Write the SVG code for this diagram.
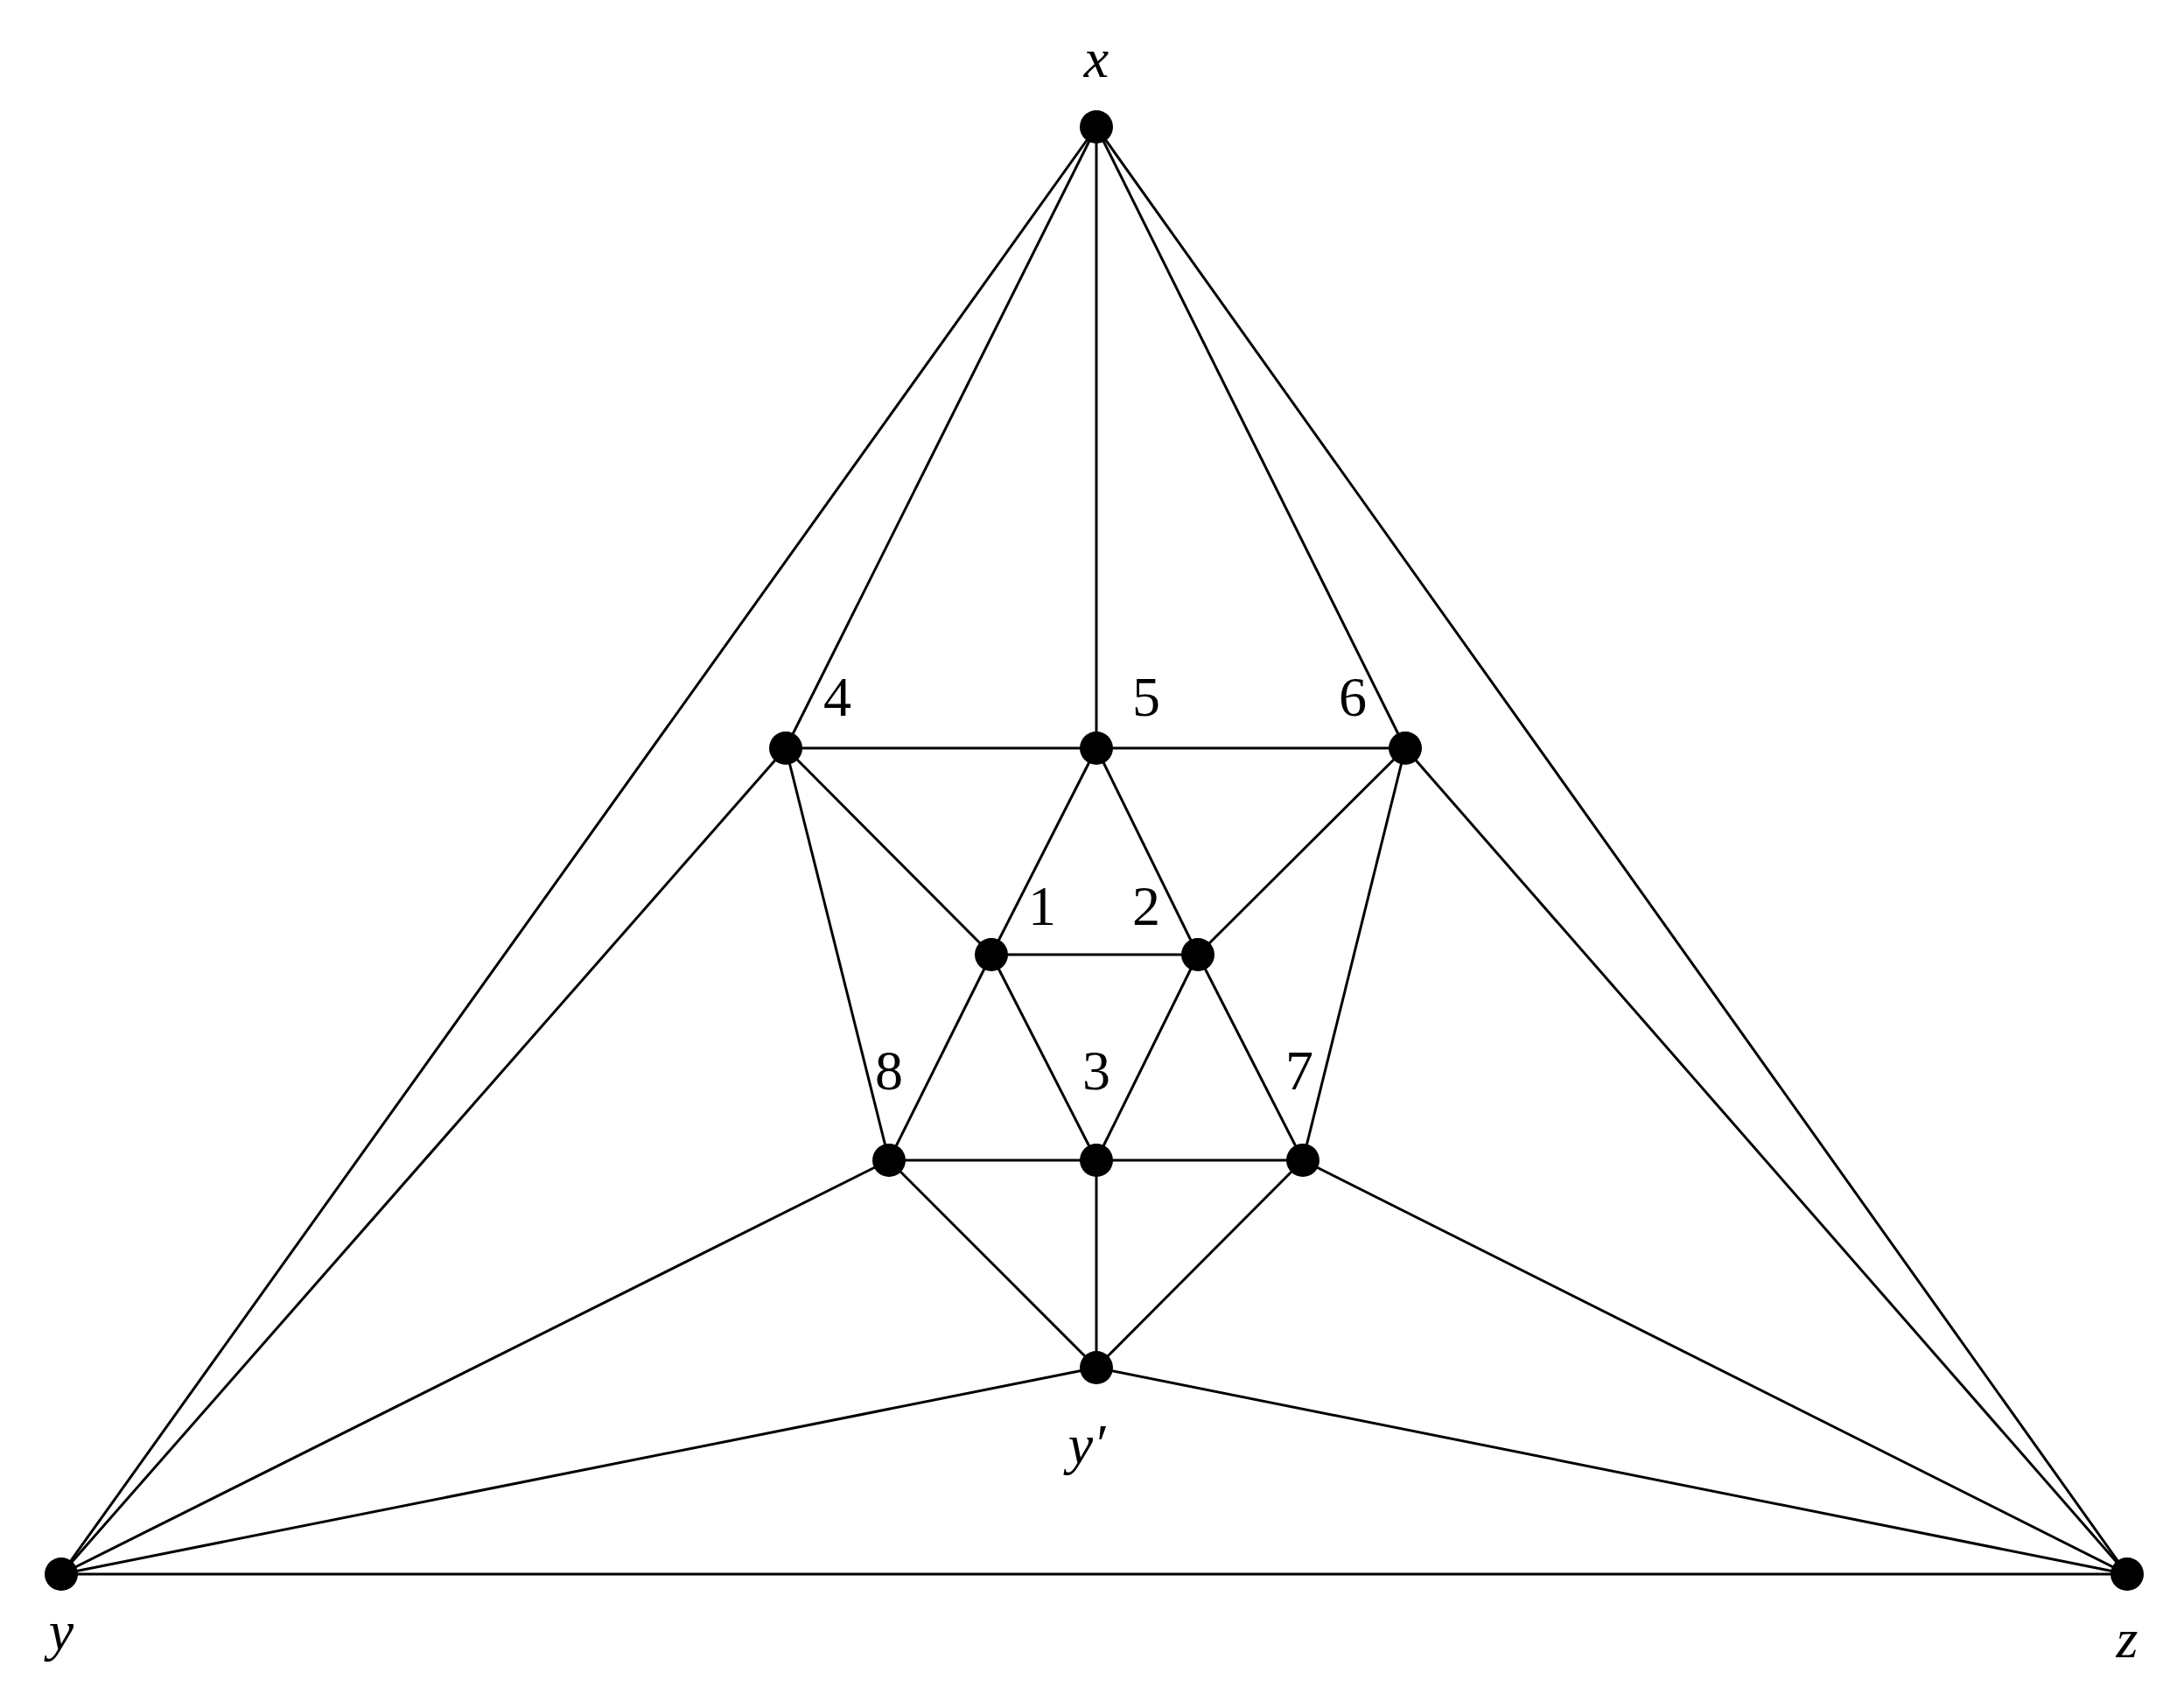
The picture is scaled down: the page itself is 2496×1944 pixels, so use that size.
<svg xmlns="http://www.w3.org/2000/svg" width="2496" height="1944" viewBox="0 0 2496 1944">
<style>
line{stroke:#000;stroke-width:3}
circle{fill:#000}
text{font-family:"Liberation Serif",serif;font-size:64px;text-anchor:middle;fill:#000}
.it{font-style:italic}
</style>
<rect width="2496" height="1944" fill="#fff"/>
<g id="edges">
<line x1="1253" y1="145" x2="70" y2="1799"/>
<line x1="1253" y1="145" x2="898" y2="855"/>
<line x1="1253" y1="145" x2="1253" y2="855"/>
<line x1="1253" y1="145" x2="1606" y2="855"/>
<line x1="1253" y1="145" x2="2431" y2="1799"/>
<line x1="70" y1="1799" x2="898" y2="855"/>
<line x1="70" y1="1799" x2="1016" y2="1326"/>
<line x1="70" y1="1799" x2="1253" y2="1563"/>
<line x1="70" y1="1799" x2="2431" y2="1799"/>
<line x1="2431" y1="1799" x2="1606" y2="855"/>
<line x1="2431" y1="1799" x2="1489" y2="1326"/>
<line x1="2431" y1="1799" x2="1253" y2="1563"/>
<line x1="898" y1="855" x2="1606" y2="855"/>
<line x1="898" y1="855" x2="1133" y2="1091"/>
<line x1="898" y1="855" x2="1016" y2="1326"/>
<line x1="1253" y1="855" x2="1133" y2="1091"/>
<line x1="1253" y1="855" x2="1369" y2="1091"/>
<line x1="1606" y1="855" x2="1369" y2="1091"/>
<line x1="1606" y1="855" x2="1489" y2="1326"/>
<line x1="1133" y1="1091" x2="1369" y2="1091"/>
<line x1="1133" y1="1091" x2="1016" y2="1326"/>
<line x1="1133" y1="1091" x2="1253" y2="1326"/>
<line x1="1369" y1="1091" x2="1253" y2="1326"/>
<line x1="1369" y1="1091" x2="1489" y2="1326"/>
<line x1="1016" y1="1326" x2="1489" y2="1326"/>
<line x1="1016" y1="1326" x2="1253" y2="1563"/>
<line x1="1253" y1="1326" x2="1253" y2="1563"/>
<line x1="1489" y1="1326" x2="1253" y2="1563"/>
</g>
<g id="nx"><circle cx="1253" cy="145" r="19"/><text class="it" x="1253" y="88">x</text></g>
<g id="ny"><circle cx="70" cy="1799" r="19"/><text class="it" x="70" y="1885">y</text></g>
<g id="nz"><circle cx="2431" cy="1799" r="19"/><text class="it" x="2431" y="1894">z</text></g>
<g id="n4"><circle cx="898" cy="855" r="19"/><text x="957" y="818">4</text></g>
<g id="n5"><circle cx="1253" cy="855" r="19"/><text x="1310" y="818">5</text></g>
<g id="n6"><circle cx="1606" cy="855" r="19"/><text x="1546" y="818">6</text></g>
<g id="n1"><circle cx="1133" cy="1091" r="19"/><text x="1191" y="1057">1</text></g>
<g id="n2"><circle cx="1369" cy="1091" r="19"/><text x="1310" y="1057">2</text></g>
<g id="n8"><circle cx="1016" cy="1326" r="19"/><text x="1016" y="1245">8</text></g>
<g id="n3"><circle cx="1253" cy="1326" r="19"/><text x="1253" y="1245">3</text></g>
<g id="n7"><circle cx="1489" cy="1326" r="19"/><text x="1485" y="1245">7</text></g>
<g id="nyp"><circle cx="1253" cy="1563" r="19"/><text class="it" x="1242" y="1672">y′</text></g>
</svg>
